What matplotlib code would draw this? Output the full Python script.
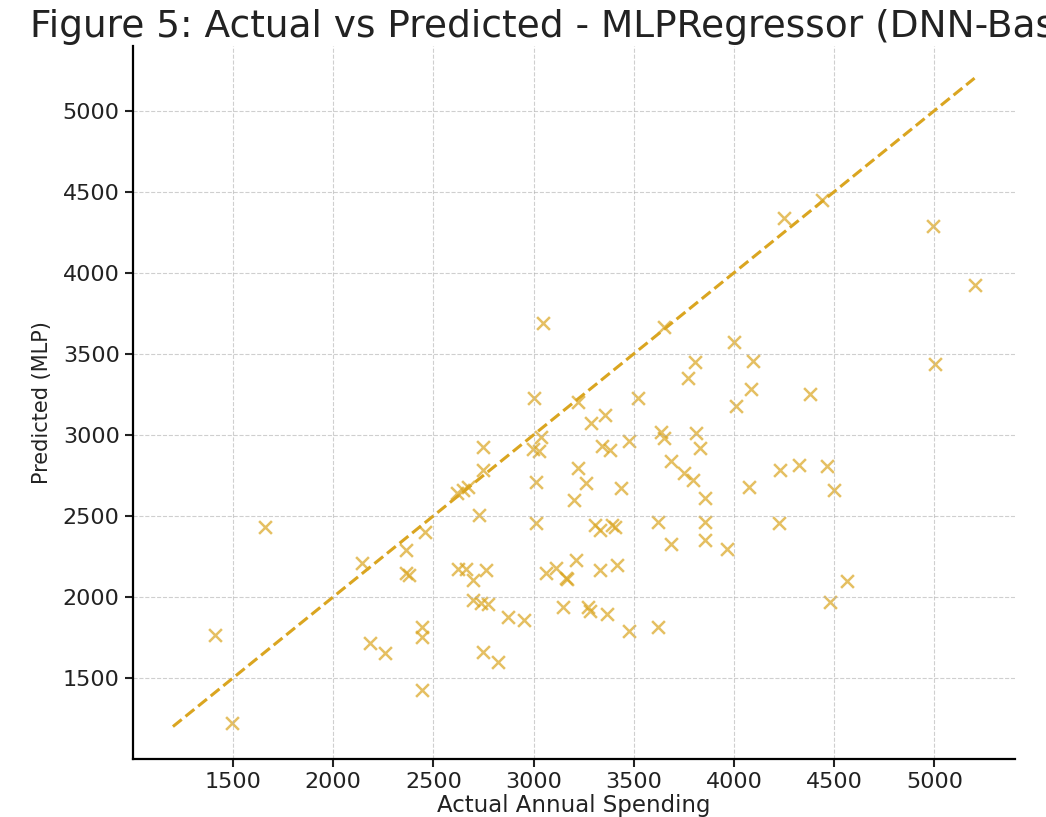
import numpy as np
import matplotlib
matplotlib.use("Agg")
import matplotlib.pyplot as plt

# actual vs predicted annual spending
actual = [
    3045, 3003, 3220, 2745, 2995, 3025, 3035, 3220, 3203, 2745,
    2620, 2645, 2670, 2728, 3010, 3010, 2460, 2362, 2145, 1660,
    2362, 2380, 2625, 2660, 2695, 2760, 2695, 2735, 2770, 2870,
    2953, 3060, 3110, 3160, 3210, 3145, 1410, 1495, 2185, 2260,
    2445, 2445, 2445, 2745, 2820,
    4249, 4437, 4995, 5200, 5003, 3648, 4000, 4094, 3803, 3768,
    4086, 4008, 4377, 3520, 3357, 3288, 3340, 3382, 3477, 3635,
    3648, 3811, 3828, 3683, 3751, 3794, 3854, 4077, 4231, 4326,
    4463, 4497, 3262, 3434, 3305, 3331, 3391, 3408, 3622, 3854,
    4223, 3683, 3854, 3966, 3165, 3331, 3417, 4566, 4480, 3271,
    3280, 3365, 3477, 3622,
]
predicted = [
    3690, 3226, 3205, 2927, 2910, 2900, 2987, 2795, 2598, 2783,
    2640, 2660, 2680, 2505, 2711, 2456, 2403, 2290, 2209, 2434,
    2150, 2135, 2170, 2170, 2105, 2165, 1980, 1960, 1955, 1877,
    1858, 2148, 2179, 2117, 2228, 1938, 1765, 1222, 1715, 1653,
    1815, 1753, 1426, 1662, 1600,
    4335, 4449, 4290, 3921, 3435, 3663, 3570, 3456, 3446, 3353,
    3280, 3177, 3249, 3229, 3125, 3074, 2929, 2908, 2960, 3015,
    2980, 3012, 2919, 2836, 2764, 2722, 2608, 2681, 2784, 2815,
    2805, 2660, 2701, 2670, 2443, 2412, 2443, 2433, 2464, 2464,
    2453, 2329, 2350, 2298, 2110, 2164, 2195, 2101, 1967, 1936,
    1916, 1895, 1791, 1812,
]
ideal = [1200, 5200]
ticks = [1500, 2000, 2500, 3000, 3500, 4000, 4500, 5000]

color = '#DAA520'

fig = plt.figure(figsize=(10.46, 8.17), dpi=100)
ax = fig.add_axes([0.127, 0.071, 0.843, 0.873])

ax.scatter(actual, predicted, marker='x', s=85, color=color, alpha=0.7, linewidths=1.8)
ax.plot(ideal, ideal, linestyle='--', color=color, lw=2.2)

ax.set_xticks(ticks)
ax.set_yticks(ticks)
ax.tick_params(labelsize=16, length=6, width=1.5, colors='#222222')
ax.grid(True, linestyle='--', color='#b0b0b0', alpha=0.6, lw=0.8)
ax.spines['top'].set_visible(False)
ax.spines['right'].set_visible(False)
ax.spines['left'].set_linewidth(1.6)
ax.spines['bottom'].set_linewidth(1.6)

ax.set_xlabel('Actual Annual Spending', fontsize=16.5, labelpad=1, color='#222222')
ax.set_ylabel('Predicted (MLP)', fontsize=15, labelpad=8, color='#222222')
# title runs past the right edge, as in the source figure
ax.set_title('Figure 5: Actual vs Predicted - MLPRegressor (DNN-Based)', fontsize=27,
             color='#222222', pad=6)

fig.savefig('out.png', dpi=100)
